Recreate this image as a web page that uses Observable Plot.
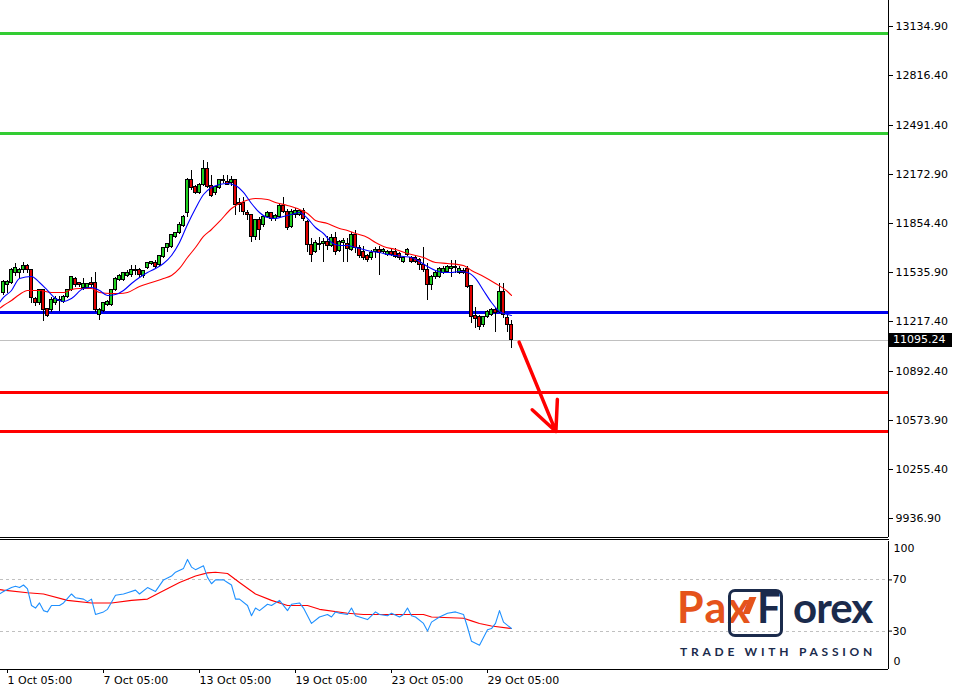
<!DOCTYPE html>
<html><head><meta charset="utf-8">
<script src="https://cdn.jsdelivr.net/npm/d3@7"></script>
<script src="https://cdn.jsdelivr.net/npm/@observablehq/plot@0.6"></script>
<style>
html,body{margin:0;padding:0;background:#fff;}
#wrap{position:relative;width:956px;height:688px;overflow:hidden;background:#fff;font-family:"DejaVu Sans",sans-serif;}
#main{position:absolute;left:0;top:0;}
#osc{position:absolute;left:0;top:539px;}
#sep{position:absolute;left:0;top:539px;width:889px;height:1px;background:#000;}
#tag{position:absolute;left:888px;width:64px;height:14px;background:#000;color:#fff;font:11px "DejaVu Sans";line-height:14px;padding-left:5px;box-sizing:border-box;}
.lg{position:absolute;font-family:Lato,"Open Sans",sans-serif;font-weight:700;white-space:nowrap;line-height:1;}
#pax{left:677px;top:585px;font-size:43px;color:#E5531B;letter-spacing:1.5px;}
#fbox{left:728px;top:589px;width:49px;height:42px;border:3px solid #1B2B4C;border-radius:7px;}
#ff{left:757px;top:586px;font-size:42px;color:#1B2B4C;}
#orex{left:793px;top:586px;font-size:42px;color:#1B2B4C;letter-spacing:-1px;}
#slash{left:746px;top:597px;width:7px;height:17px;background:#E5531B;transform:skewX(-22deg);}
#tagline{left:680px;top:646px;font-size:12px;color:#1B2B4C;letter-spacing:3.75px;}
</style>
</head><body>
<div id="wrap">
  <div id="main"></div>
  <div id="osc"></div>
  <div id="sep"></div>
  <div id="tag"></div>
  <div class="lg" id="pax">Pax</div>
  <div class="lg" id="fbox"></div>
  <div class="lg" id="slash"></div>
  <div class="lg" id="ff">F</div>
  <div class="lg" id="orex">orex</div>
  <div class="lg" id="tagline">TRADE WITH PASSION</div>
</div>
<script>
// ---- Data (NAS100 H4) ----
const open = [11399.5,11451.5,11464.5,11529.5,11529.5,11549,11575,11549,11360.5,11334.5,
11419,11295.5,11289,11334.5,11347.5,11341,11373.5,11419,11490.5,11464.5,
11432,11432,11464.5,11464.5,11256.5,11282.5,11321.5,11321.5,11419,11484,
11484,11510,11516.5,11542.5,11549,11510,11562,11588,11594.5,11581.5,
11633.5,11692,11698.5,11763.5,11789.5,11835,11919.5,12134,12088.5,12049.5,
12101.5,12205.5,12095,12049.5,12082,12127.5,12121,12114.5,12134,11984.5,
11984.5,11919.5,11906.5,11763.5,11874,11841.5,11893.5,11919.5,11880.5,11893.5,
11965,11926,11828.5,11906.5,11906.5,11932.5,11861,11711.5,11666,11711.5,
11718,11731,11705,11757,11672.5,11724.5,11718,11679,11776.5,11692,
11666,11640,11627,11666,11679,11666,11646.5,11666,11666,11653,
11601,11646.5,11627,11627,11614,11581.5,11549,11451.5,11503.5,11503.5,
11529.5,11536,11555.5,11562,11529.5,11542.5,11555.5,11445,11250,11243.5,
11191.5,11243.5,11256.5,11289,11276,11406,11237,11191.5];
const high = [11484,11484,11562,11594.5,11562,11601,11588,11555.5,11373.5,11425.5,
11425.5,11302,11373.5,11380,11380,11386.5,11425.5,11510,11503.5,11471,
11497,11464.5,11503.5,11536,11302,11341,11354,11425.5,11503.5,11523,
11536,11549,11581.5,11581.5,11562,11549,11601,11601,11614,11646.5,
11698.5,11724.5,11783,11796,11861,11906.5,12147,12199,12101.5,12114.5,
12264,12251,12166.5,12095,12140.5,12166.5,12166.5,12160,12134,12017,
12023.5,11939,11906.5,11874,11893.5,11906.5,11932.5,11926,11913,11978,
12023.5,11945.5,11945.5,11952,11945.5,11952,11874,11757,11744,11763.5,
11757,11770,11783,11796,11744,11757,11757,11796,11809,11711.5,
11705,11653,11679,11698.5,11705,11692,11679,11685.5,11692,11666,
11633.5,11692,11640,11646.5,11627,11698.5,11594.5,11516.5,11542.5,11568.5,
11575,11581.5,11614,11614,11575,11562,11575,11451.5,11308.5,11256.5,
11250,11289,11302,11302,11464.5,11464.5,11263,11224];
const low = [11386.5,11399.5,11458,11510,11497,11529.5,11529.5,11334.5,11315,11321.5,
11217.5,11243.5,11276,11321.5,11282.5,11334.5,11367,11412.5,11438.5,11438.5,
11419,11425.5,11438.5,11276,11224,11276,11315,11315,11412.5,11477.5,
11477.5,11503.5,11503.5,11516.5,11503.5,11497,11555.5,11581.5,11562,11575,
11627,11666,11692,11757,11783,11828.5,11893.5,12069,12043,12043,
12095,12082,12023.5,12036.5,12075.5,12114.5,12101.5,12095,11906.5,11926,
11906.5,11874,11731,11744,11744,11828.5,11887,11867.5,11867.5,11887,
11919.5,11809,11822,11887,11900,11867.5,11666,11601,11659.5,11679,
11601,11679,11698.5,11646.5,11666,11601,11601,11672.5,11659.5,11627,
11614,11601,11614,11627,11516.5,11653,11640,11640,11627,11614,
11594.5,11640,11594.5,11594.5,11549,11536,11354,11419,11490.5,11497,
11523,11529.5,11503.5,11529.5,11523,11523,11432,11204.5,11172,11159,
11178.5,11237,11250,11146,11269.5,11237,11146,11042];
const close = [11471,11471,11549,11562,11549,11575,11549,11367,11334.5,11419,
11289,11250,11354,11360.5,11354,11373.5,11419,11503.5,11451.5,11451.5,
11458,11458,11451.5,11289,11289,11334.5,11341,11419,11490.5,11510,
11529.5,11529.5,11549,11549,11516.5,11542.5,11594.5,11601,11568.5,11640,
11692,11718,11776.5,11789.5,11841.5,11893.5,12134,12082,12049.5,12101.5,
12205.5,12088.5,12030,12088.5,12134,12134,12101.5,12134,11971.5,11971.5,
11926,11906.5,11763.5,11874,11809,11893.5,11919.5,11880.5,11900,11965,
11926,11822,11926,11932.5,11932.5,11880.5,11711.5,11646.5,11724.5,11718,
11731,11705,11757,11666,11731,11737.5,11685.5,11776.5,11692,11640,
11627,11614,11659.5,11679,11659.5,11679,11666,11646.5,11633.5,11627,
11627,11679,11601,11601,11581.5,11549,11451.5,11503.5,11529.5,11555.5,
11555.5,11568.5,11568.5,11568.5,11555.5,11529.5,11438.5,11243.5,11230.5,11178.5,
11243.5,11276,11289,11269.5,11406,11256.5,11191.5,11095.24];

const maFastBars = [-1,0,2,4,7,9,11,13,15,17,20,22,24,26,28,30,32,34,36,38,40,42,44,46,48,50,52,54,56,58,60,62,64,66,68,70,72,74,76,78,80,82,84,86,88,90,92,94,96,98,100,102,104,106,108,110,112,114,116,118,120,122,124,126,127];
const maFastValues = [11341,11373.5,11419,11497,11510,11471,11419,11367,11347.5,11367,11432,11438.5,11419,11386.5,11393,11419,11464.5,11503.5,11536,11562,11594.5,11646.5,11731,11848,11952,12043,12088.5,12108,12114.5,12101.5,12056,11984.5,11926,11893.5,11887,11900,11913,11926,11887,11828.5,11789.5,11731,11711.5,11711.5,11698.5,11685.5,11672.5,11666,11653,11646.5,11640,11633.5,11607.5,11575,11549,11536,11536,11542.5,11536,11497,11419,11341,11282.5,11263,11256.5];
const maSlowBars = [-1,0,2,4,6,9,12,15,17,19,22,24,27,29,31,34,37,40,42,44,46,48,50,52,54,57,60,63,66,68,71,74,76,78,81,84,86,88,91,93,95,98,101,105,108,111,115,117,120,123,126,127];
const maSlowValues = [11302,11321.5,11354,11393,11419,11419,11406,11406,11425.5,11432,11432,11406,11399.5,11399.5,11406,11445,11471,11497,11516.5,11562,11633.5,11698.5,11770,11815.5,11867.5,11952,11997.5,12017,12010.5,11991,11971.5,11945.5,11919.5,11874,11854.5,11822,11809,11789.5,11763.5,11731,11705,11685.5,11659.5,11633.5,11601,11594.5,11581.5,11549,11510,11464.5,11412.5,11386.5];

const oscBars = [-1,0,2,3,4,5,6,7,8,9,10,11,12,14,15,17,18,20,21,22,23,25,26,28,30,31,33,34,36,38,40,42,43,45,46,47,48,50,51,52,53,55,56,57,58,59,61,62,63,64,66,67,69,71,72,74,75,77,79,81,82,83,84,86,87,88,90,91,93,94,96,97,99,100,101,102,103,105,106,107,109,111,113,115,116,117,119,121,122,123,124,125,127];
const oscMain = [59,61,64,65,64,66,63,50,48,52,46,45,50,50,52,59,56,55,53,55,43,45,47,58,59,60,62,59,64,61,70,73,76,79,86,80,78,81,72,67,70,70,68,66,55,55,50,42,48,46,51,50,54,46,51,52,48,36,41,43,41,45,44,43,48,42,40,39,45,43,42,44,41,43,48,42,41,36,30,37,41,44,45,43,33,22,19,31,32,36,46,37,32];
const oscSignalBars = [-1,0,6,10,16,22,27,32,36,39,44,48,51,53,56,59,63,67,71,76,79,86,90,97,105,107,115,117,119,122,127];
const oscSignal = [62.5,62,60,59,54,52,52,54,55,60,68,73,75.5,76,75,68,59,54,50,50,47,44,43,43,43,41,40,38,36,34,32];
const oscLevels = [30, 70];
const oscEnds = [100, 0];

const priceTicks = [13134.90,12816.40,12491.40,12172.90,11854.40,11535.90,11217.40,10892.40,10573.90,10255.40,9936.90];
const tickBars = [1,25,49,73,97,121];
const tickLabels = ["1 Oct 05:00","7 Oct 05:00","13 Oct 05:00","19 Oct 05:00","23 Oct 05:00","29 Oct 05:00"];

const resistanceLevels = [13089, 12439];
const supportLevels = [11276];
const targetLevels = [10756, 10502];
const arrowFrom = {bar: 128.9, price: 11083};
const arrowTo = {bar: 138.1, price: 10502};

const xDomain = [-0.75, 221.25];
const yDomain = [9813.4, 13303.9];

// ---- Build ----
const candles = open.map((o, i) => ({bar: i, open: o, high: high[i], low: low[i], close: close[i]}));
const fast = maFastBars.map((b, i) => ({bar: b, value: maFastValues[i]}));
const slow = maSlowBars.map((b, i) => ({bar: b, value: maSlowValues[i]}));
const osc = oscBars.map((b, i) => ({bar: b, value: oscMain[i]}));
const sig = oscSignalBars.map((b, i) => ({bar: b, value: oscSignal[i]}));
const lastPrice = close[close.length - 1];
const labelOf = new Map(tickBars.map((b, i) => [b, tickLabels[i]]));
const crisp = {shapeRendering: "crispEdges"};
const font = {fontFamily: "DejaVu Sans", fontSize: "11px", color: "#000", background: "#fff", overflow: "hidden"};

const main = Plot.plot({
  width: 956, height: 538,
  marginLeft: 0, marginRight: 68, marginTop: 0, marginBottom: 1,
  x: {domain: xDomain, axis: null},
  y: {domain: yDomain, axis: null},
  style: font,
  marks: [
    Plot.ruleY([lastPrice], {stroke: "#c0c0c0", strokeWidth: 1, ...crisp}),
    Plot.ruleY(resistanceLevels, {stroke: "#33CC33", strokeWidth: 3, ...crisp}),
    Plot.ruleY(supportLevels, {stroke: "#0000EE", strokeWidth: 3, ...crisp}),
    Plot.ruleY(targetLevels, {stroke: "#FF0000", strokeWidth: 3, ...crisp}),
    Plot.ruleX(candles, {x: "bar", y1: "low", y2: "high", stroke: "#000", strokeWidth: 1, ...crisp}),
    Plot.rect(candles, {
      x1: d => d.bar - 0.375, x2: d => d.bar + 0.375,
      y1: "open", y2: "close",
      fill: d => d.close >= d.open ? "#1ED01E" : "#E00000",
      stroke: "#000", strokeWidth: 1, ...crisp
    }),
    Plot.line(slow, {x: "bar", y: "value", stroke: "#FF0000", strokeWidth: 1.1, curve: "monotone-x"}),
    Plot.line(fast, {x: "bar", y: "value", stroke: "#0000FF", strokeWidth: 1.1, curve: "monotone-x"}),
    Plot.arrow([{}], {
      x1: () => arrowFrom.bar, y1: () => arrowFrom.price,
      x2: () => arrowTo.bar, y2: () => arrowTo.price,
      stroke: "#FF0000", strokeWidth: 3.5, headLength: 16, headAngle: 50
    }),
    Plot.ruleX([xDomain[1]], {stroke: "#000", ...crisp}),
    Plot.ruleY([yDomain[0]], {stroke: "#000", ...crisp}),
    Plot.axisY(priceTicks, {anchor: "right", label: null, tickSize: 4, tickPadding: 3, tickFormat: d => d.toFixed(2), fontSize: 11})
  ]
});
document.getElementById("main").append(main);

const oscChart = Plot.plot({
  width: 956, height: 149,
  marginLeft: 0, marginRight: 68, marginTop: 2, marginBottom: 19,
  x: {domain: xDomain, axis: null},
  y: {domain: [0, 100], axis: null},
  style: font,
  marks: [
    Plot.ruleY(oscLevels, {stroke: "#c0c0c0", strokeDasharray: "3,3", ...crisp}),
    Plot.line(sig, {x: "bar", y: "value", stroke: "#FF0000", strokeWidth: 1.1}),
    Plot.line(osc, {x: "bar", y: "value", stroke: "#1E90FF", strokeWidth: 1.1}),
    Plot.ruleX([xDomain[1]], {stroke: "#000", ...crisp}),
    Plot.ruleY([0], {stroke: "#000", ...crisp}),
    Plot.axisY(oscLevels, {anchor: "right", label: null, tickSize: 3, tickPadding: 1, fontSize: 11}),
    Plot.axisY([oscEnds[0]], {anchor: "right", label: null, tickSize: 0, tickPadding: 5, dy: 7, fontSize: 11}),
    Plot.axisY([oscEnds[1]], {anchor: "right", label: null, tickSize: 0, tickPadding: 5, dy: -8, fontSize: 11}),
    Plot.axisX(tickBars, {anchor: "bottom", label: null, tickSize: 4, tickPadding: 3, textAnchor: "start", tickFormat: d => labelOf.get(d), fontSize: 11})
  ]
});
document.getElementById("osc").append(oscChart);

const tag = document.getElementById("tag");
tag.textContent = lastPrice.toFixed(2);
tag.style.top = (main.scale("y").apply(lastPrice) - 7) + "px";
</script>
</body></html>
